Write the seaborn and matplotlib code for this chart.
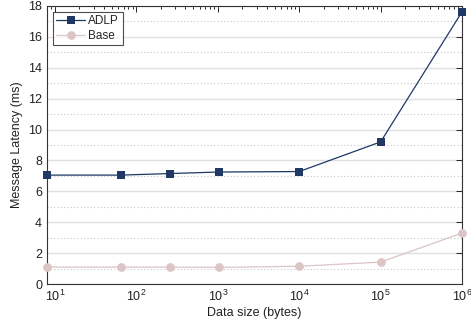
import numpy as np
import pandas as pd
import matplotlib
matplotlib.use('Agg')
import matplotlib.pyplot as plt
import seaborn as sns
from matplotlib.ticker import LogLocator, MultipleLocator, NullFormatter

# data
data_size = [8, 64, 256, 1024, 10000, 100000, 1000000]
adlp_ms = [7.05, 7.05, 7.15, 7.25, 7.28, 9.2, 17.62]
base_ms = [1.1, 1.1, 1.1, 1.08, 1.15, 1.42, 3.3]

df = pd.DataFrame({
    'size': data_size * 2,
    'latency': adlp_ms + base_ms,
    'method': ['ADLP'] * len(data_size) + ['Base'] * len(data_size),
})

sns.set_style('white')
plt.rcParams['font.family'] = ['Liberation Sans', 'DejaVu Sans']
plt.rcParams['mathtext.fontset'] = 'custom'
plt.rcParams['mathtext.rm'] = 'Liberation Sans'

fig = plt.figure(figsize=(4.71, 3.28), dpi=100)
ax = fig.add_axes([0.0998, 0.134, 0.8812, 0.848])

palette = {'ADLP': '#1f3864', 'Base': '#dbc5c5'}
sns.lineplot(data=df, x='size', y='latency', hue='method', style='method',
             markers={'ADLP': 's', 'Base': 'o'}, dashes=False, palette=palette,
             linewidth=0.9, markersize=6.3, markeredgewidth=0, ax=ax, zorder=3,
             clip_on=False)

ax.set_xscale('log')
ax.set_xlim(8, 1e6)
ax.set_ylim(0, 18)
ax.yaxis.set_major_locator(MultipleLocator(2))
ax.yaxis.set_minor_locator(MultipleLocator(1))
ax.xaxis.set_major_locator(LogLocator(base=10, numticks=10))
ax.xaxis.set_minor_locator(LogLocator(base=10, subs=np.arange(2, 10), numticks=20))
ax.xaxis.set_minor_formatter(NullFormatter())

ax.grid(True, which='major', axis='y', color='#e0e0e0', linewidth=1.0, linestyle='-')
ax.grid(True, which='minor', axis='y', color='#c8c8c8', linewidth=0.8, linestyle=(0, (1, 2)))
ax.set_axisbelow(True)

ax.tick_params(which='both', direction='in', top=True, right=True, labelsize=9,
               colors='#222222', width=0.7)
ax.tick_params(which='major', length=4)
ax.tick_params(which='minor', length=2)
ax.tick_params(axis='y', which='minor', length=0)
for s in ax.spines.values():
    s.set_color('#333333')
    s.set_linewidth(0.8)

ax.set_xlabel('Data size (bytes)', fontsize=9, color='#222222', labelpad=2)
ax.set_ylabel('Message Latency (ms)', fontsize=9, color='#222222', labelpad=4)

leg = ax.legend(loc='upper left', fontsize=8.5, frameon=True, fancybox=False,
                handlelength=2.4, borderpad=0.3, labelspacing=0.2,
                handletextpad=0.3, borderaxespad=0.5)
leg.get_frame().set_edgecolor('#222222')
leg.get_frame().set_linewidth(0.8)

plt.savefig('out.png', dpi=100)
